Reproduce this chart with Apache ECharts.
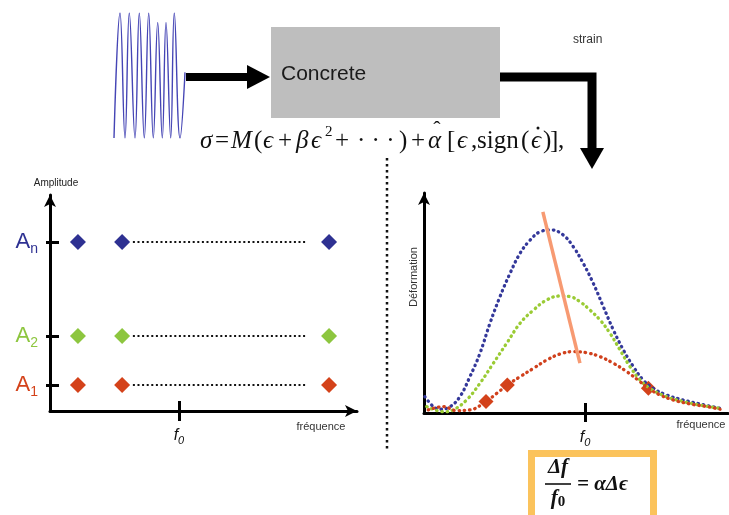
<!DOCTYPE html>
<html>
<head>
<meta charset="utf-8">
<script src="https://cdn.jsdelivr.net/npm/echarts@6/dist/echarts.min.js"></script>
<style>html,body{margin:0;padding:0;background:#fff}#c{width:729px;height:515px}</style>
</head>
<body>
<div id="c"></div>
<script>
// ---- input signal (time index, normalised amplitude) ----
const waveTime = [1, 7, 12, 16.3, 22, 26.3, 31.3, 35.7, 40.3, 44.7, 49.3, 53, 57.7, 61.3, 67, 72];
const waveAmp  = [-1, 1, -1, 1, -1, 1, -1, 1, -1, 0.85, -1, 0.85, -1, 1, -1, 0.05];

// ---- left chart: amplitude vs frequency ----
const levelValues = [12.0, 34.7, 78.2];          // A1, A2, An
const levelSubs   = ['1', '2', 'n'];
const levelColors = ['#D4421A', '#8DC63F', '#2E3192'];
const pointFreqs  = [9.1, 23.5, 90.9];
const dotFrom = 27.0, dotTo = 83.7;
const f0Left = 42;

// ---- right chart: deformation vs frequency ----
const f0Right = 53;
const blueCurve = [[0.3,7.4],[3.1,2.9],[5.3,1.7],[8.6,2.9],[11.8,7.4],[15.1,16.5],[18.4,27.1],[21.7,40.8],[25.0,52.9],[28.3,63.5],[31.6,72.6],[34.9,78.6],[38.2,82.4],[42.0,83.2],[45.8,80.9],[49.1,75.6],[52.4,68.0],[55.7,58.9],[59.0,48.3],[62.3,37.7],[65.6,28.6],[68.9,21.0],[72.1,15.0],[75.4,11.2],[79.8,8.2],[85.3,5.9],[90.8,4.1],[97.4,2.1]];
const greenCurve = [[0.9,2.9],[6.4,0.6],[9.6,1.4],[14.0,5.9],[18.4,13.5],[22.8,22.6],[27.2,31.7],[31.6,40.8],[36.0,46.8],[40.4,51.4],[44.7,53.2],[48.0,52.9],[51.3,50.6],[54.6,46.8],[57.9,42.3],[61.2,36.2],[64.5,28.6],[67.8,21.0],[71.1,15.0],[74.3,11.2],[79.8,7.4],[85.3,5.2],[90.8,3.6],[97.4,2.1]];
const redCurve = [[1.4,1.4],[6.4,2.9],[10.7,1.1],[15.1,1.4],[20.4,5.2],[23.9,8.9],[27.4,12.7],[31.6,16.5],[36.0,20.3],[40.4,24.1],[44.7,26.8],[49.1,27.9],[53.5,27.4],[57.9,25.6],[62.3,22.6],[66.7,18.8],[71.1,14.2],[73.8,11.2],[77.6,8.2],[82.0,5.9],[87.5,4.1],[93.0,2.9],[97.4,1.7]];
const redPoints = [[20.4,5.2],[27.4,12.7],[73.8,11.2]];
const peakShift = [[39.1,91.4],[51.3,22.7]];

const chart = echarts.init(document.getElementById('c'));

const sansFont = '"Liberation Sans", Arial, sans-serif';
const serifFont = '"Liberation Serif", "Times New Roman", "DejaVu Serif", serif';

function levelRich() {
  const r = {};
  levelColors.forEach((c, i) => {
    r['a' + i] = { color: c, fontSize: 22, fontFamily: sansFont };
    r['s' + i] = { color: c, fontSize: 14, fontFamily: sansFont, padding: [14, 0, 0, 0] };
  });
  return r;
}
const f0Rich = {
  i: { fontSize: 16, fontStyle: 'italic', fontFamily: sansFont, color: '#111' },
  s: { fontSize: 11, fontStyle: 'italic', fontFamily: sansFont, color: '#111', padding: [10, 0, 0, 0] }
};

const dottedDark = { color: '#111', width: 2, type: [2, 2.6] };

const series = [
  { type: 'line', xAxisIndex: 0, yAxisIndex: 0, data: waveTime.map((t, i) => [t, waveAmp[i]]),
    smooth: 0.45, showSymbol: false, lineStyle: { color: '#4545B5', width: 1.4 }, silent: true }
];
levelValues.forEach((lv, i) => {
  series.push({ type: 'line', xAxisIndex: 1, yAxisIndex: 1, data: [[dotFrom, lv], [dotTo, lv]],
    showSymbol: false, lineStyle: dottedDark, silent: true });
  series.push({ type: 'scatter', xAxisIndex: 1, yAxisIndex: 1, data: pointFreqs.map(f => [f, lv]),
    symbol: 'diamond', symbolSize: 16, itemStyle: { color: levelColors[i], opacity: 1 }, silent: true });
});
const curveStyle = c => ({ color: c, width: 3.3, type: [0.5, 4.8], cap: 'round' });
series.push(
  { type: 'line', xAxisIndex: 3, yAxisIndex: 3, data: blueCurve, smooth: 0.4, showSymbol: false, lineStyle: curveStyle('#34389A'), silent: true },
  { type: 'line', xAxisIndex: 3, yAxisIndex: 3, data: greenCurve, smooth: 0.4, showSymbol: false, lineStyle: curveStyle('#9ACB34'), silent: true },
  { type: 'line', xAxisIndex: 3, yAxisIndex: 3, data: redCurve, smooth: 0.4, showSymbol: false, lineStyle: curveStyle('#D0401C'), silent: true },
  { type: 'line', xAxisIndex: 3, yAxisIndex: 3, data: peakShift, showSymbol: false, lineStyle: { color: '#F79A72', width: 3.5 }, silent: true },
  { type: 'scatter', xAxisIndex: 3, yAxisIndex: 3, data: redPoints, symbol: 'diamond', symbolSize: 15, itemStyle: { color: '#D4421A', opacity: 1 }, silent: true }
);

const hidden = { show: false };

// constitutive-law tokens: [text, left x, italic?]
const lawTokens = [
  ['σ', 200, true], ['=', 215, false], ['M', 231, true], ['(', 254, false], ['ϵ', 263, true],
  ['+', 278, false], ['β', 296, true], ['ϵ', 311, true], ['+', 335, false], ['· · ·', 357, false],
  [')', 399, false], ['+', 411, false], ['α', 428, true], ['[', 447, false], ['ϵ', 457, true],
  [',', 471, false], ['sign', 477, false], ['(', 521, false], ['ϵ', 531, true], [')', 543, false],
  [']', 550, false], [',', 558, false]
];
const lawGraphics = lawTokens.map(t => ({
  type: 'text', x: t[1], y: 141,
  style: { text: t[0], fontSize: 25, fontStyle: t[2] ? 'italic' : 'normal', fontFamily: serifFont, fill: '#111', verticalAlign: 'middle' }
}));
lawGraphics.push(
  { type: 'text', x: 325, y: 132, style: { text: '2', fontSize: 15, fontFamily: serifFont, fill: '#111', verticalAlign: 'middle' } },
  { type: 'text', x: 437, y: 130, style: { text: 'ˆ', fontSize: 22, fontFamily: serifFont, fill: '#111', align: 'center', verticalAlign: 'middle' } },
  { type: 'circle', shape: { cx: 538, cy: 128, r: 1.5 }, style: { fill: '#111' } }
);

const option = {
  animation: false,
  backgroundColor: '#fff',
  grid: [
    { left: 113, top: 13, width: 72, height: 125 },
    { left: 50, top: 195, width: 307, height: 216 },
    { left: 424, top: 193, width: 304, height: 220 }
  ],
  xAxis: [
    { gridIndex: 0, type: 'value', min: 0, max: 72, axisLine: hidden, axisTick: hidden, axisLabel: hidden, splitLine: hidden },
    { gridIndex: 1, type: 'value', min: 0, max: 100, position: 'bottom',
      axisLine: { show: true, onZero: false, symbol: ['none', 'arrow'], symbolSize: [9, 12], lineStyle: { color: '#000', width: 3 } },
      axisTick: { show: true, customValues: [f0Left], length: 10, lineStyle: { color: '#000', width: 3 } },
      axisLabel: { show: true, customValues: [f0Left], margin: 14, formatter: () => '{i|f}{s|0}', rich: f0Rich },
      splitLine: hidden },
    { gridIndex: 1, type: 'value', min: 0, max: 100, position: 'bottom', axisLine: { show: false, onZero: false },
      axisTick: { show: true, inside: true, customValues: [f0Left], length: 10, lineStyle: { color: '#000', width: 3 } },
      axisLabel: hidden, splitLine: hidden },
    { gridIndex: 2, type: 'value', min: 0, max: 100, position: 'bottom',
      axisLine: { show: true, onZero: false, lineStyle: { color: '#000', width: 3 } },
      axisTick: { show: true, customValues: [f0Right], length: 9, lineStyle: { color: '#000', width: 3 } },
      axisLabel: { show: true, customValues: [f0Right], margin: 14, formatter: () => '{i|f}{s|0}', rich: f0Rich },
      splitLine: hidden },
    { gridIndex: 2, type: 'value', min: 0, max: 100, position: 'bottom', axisLine: { show: false, onZero: false },
      axisTick: { show: true, inside: true, customValues: [f0Right], length: 10, lineStyle: { color: '#000', width: 3 } },
      axisLabel: hidden, splitLine: hidden }
  ],
  yAxis: [
    { gridIndex: 0, type: 'value', min: -1, max: 1, axisLine: hidden, axisTick: hidden, axisLabel: hidden, splitLine: hidden },
    { gridIndex: 1, type: 'value', min: 0, max: 100, position: 'left',
      axisLine: { show: true, onZero: false, symbol: ['none', 'arrow'], symbolSize: [9, 12], lineStyle: { color: '#000', width: 3 } },
      axisTick: { show: true, customValues: levelValues, length: 4, lineStyle: { color: '#000', width: 3 } },
      axisLabel: { show: true, customValues: levelValues, margin: 12,
        formatter: v => { const i = levelValues.indexOf(v); return '{a' + i + '|A}{s' + i + '|' + levelSubs[i] + '}'; },
        rich: levelRich() },
      splitLine: hidden },
    { gridIndex: 1, type: 'value', min: 0, max: 100, position: 'left', axisLine: { show: false, onZero: false },
      axisTick: { show: true, inside: true, customValues: levelValues, length: 9, lineStyle: { color: '#000', width: 3 } },
      axisLabel: hidden, splitLine: hidden },
    { gridIndex: 2, type: 'value', min: 0, max: 100, position: 'left',
      axisLine: { show: true, onZero: false, symbol: ['none', 'arrow'], symbolSize: [9, 12], lineStyle: { color: '#000', width: 3 } },
      axisTick: hidden, axisLabel: hidden, splitLine: hidden }
  ],
  series: series,
  graphic: [
    // arrow from signal to concrete
    { type: 'line', shape: { x1: 186, y1: 77, x2: 249, y2: 77 }, style: { stroke: '#000', lineWidth: 8 } },
    { type: 'polygon', shape: { points: [[247, 65], [270, 77], [247, 89]] }, style: { fill: '#000' } },
    // concrete block
    { type: 'rect', shape: { x: 271, y: 27, width: 229, height: 91 }, style: { fill: '#BEBEBE' } },
    { type: 'text', x: 281, y: 74, style: { text: 'Concrete', fontSize: 21, fontFamily: sansFont, fill: '#1a1a1a', verticalAlign: 'middle' } },
    // output arrow
    { type: 'polyline', shape: { points: [[500, 77], [592, 77], [592, 150]] }, style: { stroke: '#000', lineWidth: 9, lineJoin: 'miter', fill: null } },
    { type: 'polygon', shape: { points: [[580, 148], [604, 148], [592, 169]] }, style: { fill: '#000' } },
    { type: 'text', x: 573, y: 40, style: { text: 'strain', fontSize: 12, fontFamily: sansFont, fill: '#333', verticalAlign: 'middle' } },
    ...lawGraphics,
    // separator
    { type: 'line', shape: { x1: 387, y1: 158, x2: 387, y2: 450 }, style: { stroke: '#111', lineWidth: 2.5, lineDash: [2.5, 3.5] } },
    // axis names
    { type: 'text', x: 56, y: 183, style: { text: 'Amplitude', fontSize: 10, fontFamily: sansFont, fill: '#222', align: 'center', verticalAlign: 'middle' } },
    { type: 'text', x: 321, y: 427, style: { text: 'fréquence', fontSize: 11, fontFamily: sansFont, fill: '#333', align: 'center', verticalAlign: 'middle' } },
    { type: 'text', x: 701, y: 425, style: { text: 'fréquence', fontSize: 11, fontFamily: sansFont, fill: '#333', align: 'center', verticalAlign: 'middle' } },
    { type: 'text', x: 414, y: 277, rotation: Math.PI / 2, style: { text: 'Déformation', fontSize: 11, fontFamily: sansFont, fill: '#333', align: 'center', verticalAlign: 'middle' } },
    // frequency shift formula box
    { type: 'rect', shape: { x: 531.5, y: 453.5, width: 122, height: 70 }, style: { fill: '#fff', stroke: '#FBC35C', lineWidth: 7 } },
    { type: 'text', x: 558, y: 468, style: { text: 'Δf', fontSize: 21, fontWeight: 'bold', fontStyle: 'italic', fontFamily: serifFont, fill: '#111', align: 'center', verticalAlign: 'middle' } },
    { type: 'line', shape: { x1: 545, y1: 484, x2: 571, y2: 484 }, style: { stroke: '#111', lineWidth: 1.6 } },
    { type: 'text', x: 558, y: 499, style: { text: '{f|f}{s|0}', align: 'center', verticalAlign: 'middle',
        rich: { f: { fontSize: 21, fontWeight: 'bold', fontStyle: 'italic', fontFamily: serifFont, fill: '#111' },
                s: { fontSize: 15, fontWeight: 'bold', fontFamily: serifFont, fill: '#111', padding: [6, 0, 0, 0] } } } },
    { type: 'text', x: 577, y: 485, style: { text: '= αΔϵ', fontSize: 21, fontWeight: 'bold', fontStyle: 'italic', fontFamily: serifFont, fill: '#111', verticalAlign: 'middle' } }
  ]
};
chart.setOption(option);
</script>
</body>
</html>
